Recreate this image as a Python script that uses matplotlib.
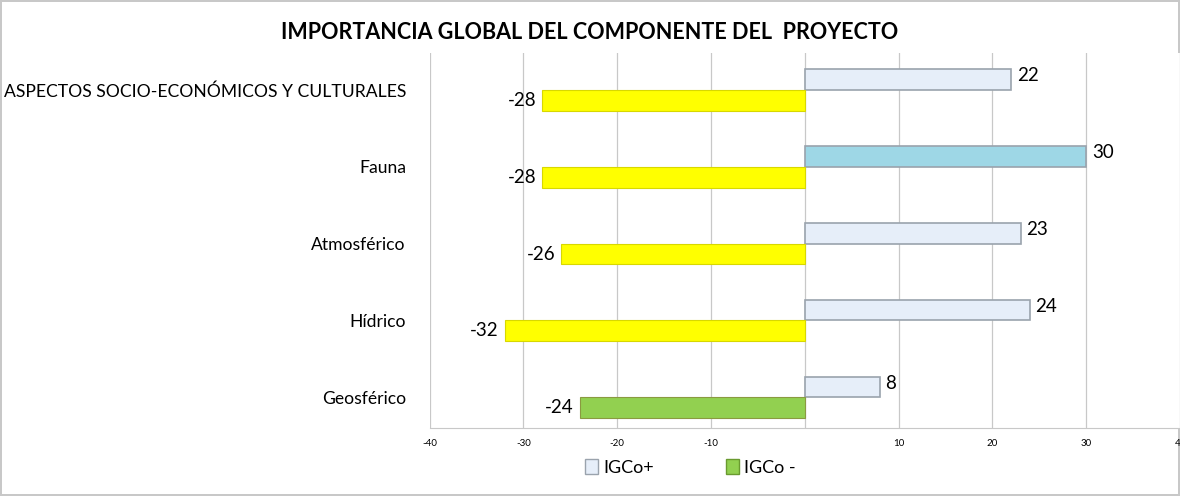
import numpy as np
import matplotlib.pyplot as plt

plt.rcParams['font.family'] = ['Lato', 'DejaVu Sans']

componentes = ["ASPECTOS SOCIO-ECONÓMICOS Y CULTURALES", "Fauna", "Atmosférico", "Hídrico", "Geosférico"]
igco_pos = [22, 30, 23, 24, 8]
igco_neg = [-28, -28, -26, -32, -24]
colores_pos = ["#e6eef9", "#9ed7e6", "#e6eef9", "#e6eef9", "#e6eef9"]
colores_neg = ["#ffff00", "#ffff00", "#ffff00", "#ffff00", "#92d050"]

fig = plt.figure(figsize=(11.8, 4.96), dpi=100)
fig.patch.set_edgecolor("#c8c8c8")
fig.patch.set_linewidth(1.5)
ax = fig.add_axes([0.364, 0.137, 0.636, 0.756])

y = np.arange(len(componentes))
h = 0.27
b1 = ax.barh(y - h / 2, igco_pos, height=h, color=colores_pos, edgecolor="#9aa3ad", linewidth=1.2, label="IGCo+", zorder=3)
b2 = ax.barh(y + h / 2, igco_neg, height=h, color=colores_neg, edgecolor="#8a9a40", linewidth=0.8, label="IGCo -", zorder=3)
for bar in b2:
    if bar.get_facecolor()[:3] == (1.0, 1.0, 0.0):
        bar.set_edgecolor("#d8d800")

for yi, v in zip(y, igco_pos):
    ax.text(v + 0.6, yi - h / 2 - 0.05, str(v), ha="left", va="center", fontsize=13.5)
for yi, v in zip(y, igco_neg):
    ax.text(v - 0.6, yi + h / 2, str(v), ha="right", va="center", fontsize=13.5)

ax.set_xlim(-40, 40)
ax.set_ylim(4.4, -0.48)
ax.set_xticks([-40, -30, -20, -10, 10, 20, 30, 40])
ax.set_xticklabels(["-40", "-30", "-20", "-10", "10", "20", "30", "40"], fontsize=7)
ax.set_yticks(y)
ax.set_yticklabels(componentes, fontsize=12.6)
ax.tick_params(axis="y", length=0, pad=17)
ax.tick_params(axis="x", length=0, pad=8)
for xv in range(-40, 41, 10):
    ax.axvline(xv, color="#c8c8c8", linewidth=0.9, zorder=0)
for s in ["top", "right", "left"]:
    ax.spines[s].set_visible(False)
ax.spines["bottom"].set_color("#c8c8c8")

fig.suptitle("IMPORTANCIA GLOBAL DEL COMPONENTE DEL  PROYECTO", fontsize=15.5, fontweight="bold", y=0.955)

h1 = plt.Rectangle((0, 0), 1, 1, facecolor="#e6eef9", edgecolor="#9aa3ad")
h2 = plt.Rectangle((0, 0), 1, 1, facecolor="#92d050", edgecolor="#6a9a30")
fig.legend([h1, h2], ["IGCo+", "IGCo -"], loc="center", bbox_to_anchor=(0.585, 0.058), ncol=2,
           frameon=False, fontsize=13, handlelength=0.7, handleheight=0.9, columnspacing=4.0, handletextpad=0.3)

fig.savefig("out.png", dpi=100)
